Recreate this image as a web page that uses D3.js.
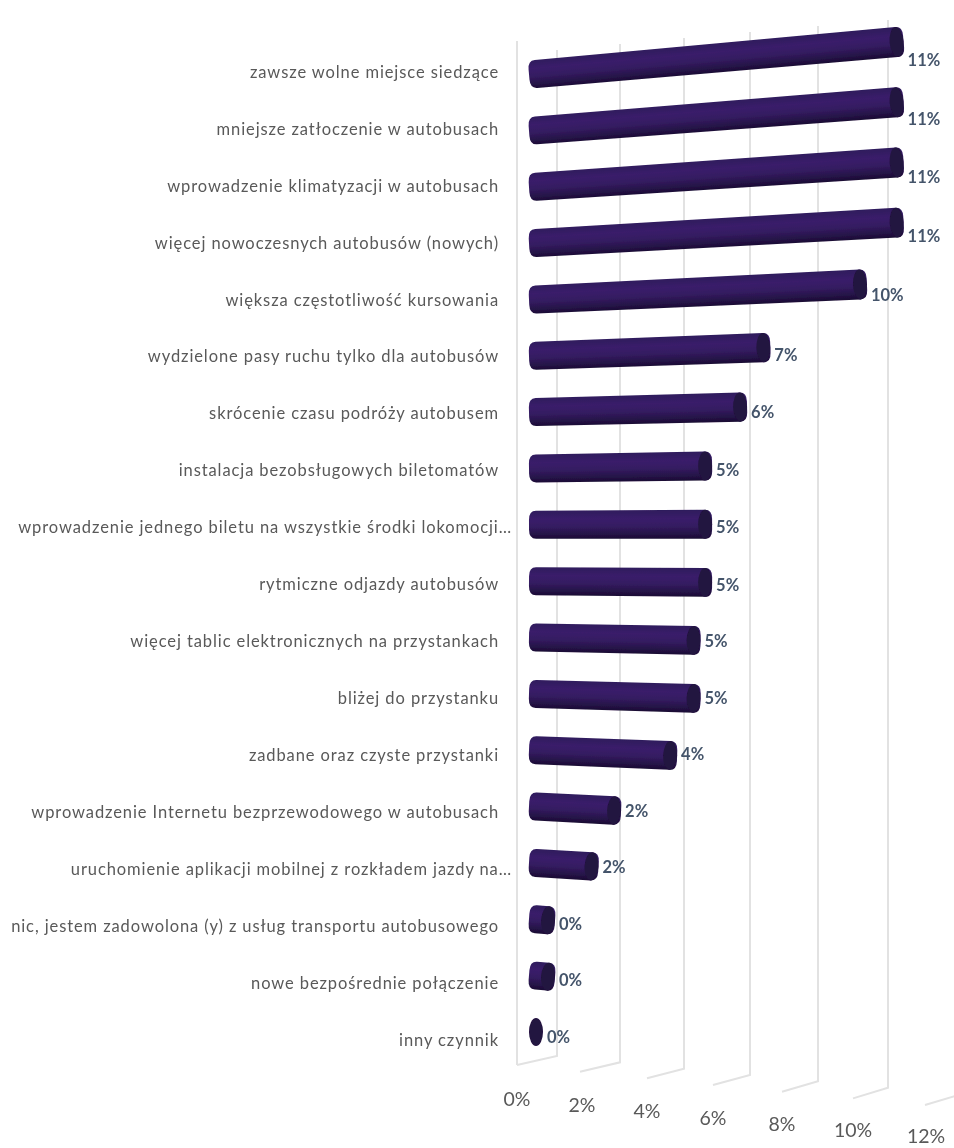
<!DOCTYPE html>
<html><head><meta charset="utf-8">
<style>html,body{margin:0;padding:0;background:#fff}svg{display:block}</style>
<script src="https://cdn.jsdelivr.net/npm/d3@7"></script></head>
<body><div id="c"></div>
<script>
const categories = ["zawsze wolne miejsce siedzące","mniejsze zatłoczenie w autobusach","wprowadzenie klimatyzacji w autobusach","więcej nowoczesnych autobusów (nowych)","większa częstotliwość kursowania","wydzielone pasy ruchu tylko dla autobusów","skrócenie czasu podróży autobusem","instalacja bezobsługowych biletomatów","wprowadzenie jednego biletu na wszystkie środki lokomocji…","rytmiczne odjazdy autobusów","więcej tablic elektronicznych na przystankach","bliżej do przystanku","zadbane oraz czyste przystanki","wprowadzenie Internetu bezprzewodowego w autobusach","uruchomienie aplikacji mobilnej z rozkładem jazdy na…","nic, jestem zadowolona (y) z usług transportu autobusowego","nowe bezpośrednie połączenie","inny czynnik"];
const values = [10.72,10.72,10.72,10.72,9.7,6.93,6.25,5.2,5.2,5.2,4.85,4.85,4.14,2.43,1.73,0.35,0.35,0];
const ticks = [0,2,4,6,8,10,12];
const tickLabels = ["0%","2%","4%","6%","8%","10%","12%"];

const W=954,H=1148;
const svg=d3.select("#c").append("svg").attr("width",W).attr("height",H);
const defs=svg.append("defs");
const grad=defs.append("linearGradient").attr("id","cyl").attr("x1",0).attr("x2",0).attr("y1",0).attr("y2",1);
[[0,"#2e1a5c"],[0.3,"#3a1e6a"],[0.55,"#351c62"],[0.8,"#27144a"],[1,"#1a0c33"]].forEach(s=>grad.append("stop").attr("offset",s[0]).attr("stop-color",s[1]));
const soft=defs.append("filter").attr("id","soft").attr("x","-5%").attr("y","-20%").attr("width","110%").attr("height","140%");
soft.append("feGaussianBlur").attr("stdDeviation",0.5);

// perspective scales
const xFront=d3.scaleLinear().domain(ticks).range([517,580,647,713,782,853,925]);
const xBack=d3.scaleLinear().domain(ticks).range([557,620,684,750,818,888,962]);
const xMid=d3.scaleLinear().domain(ticks).range([537,600,665.5,731.5,800,870.5,943]);
const yFront=d3.scaleLinear().domain([0,12]).range([1065,1105]);
const yBackBottom=d3.scaleLinear().domain([0,12]).range([1056,1094]);
const yBackTop=d3.scaleLinear().domain([0,12]).range([50,14]);
const xTickLabel=d3.scaleLinear().domain(ticks).range([517,582,647,713,782,853,926]);
const yTickLabel=d3.scaleLinear().domain([0,12]).range([1099,1136.5]);
const row=d3.scaleLinear().domain([0,categories.length-1]).range([74,1032]);
const rowLabel=d3.scaleLinear().domain([0,categories.length-1]).range([72,1040]);
const rowValue=d3.scaleLinear().domain([0,4,5,9,categories.length-1]).range([60,295,355,585,1037]);
const vanish={x:-4758,y:543};
const thick=d3.scaleLinear().domain([536,896]).range([28,30]);
const x0=xMid(0)-1, rx=7;

const line=d3.line();
const grid=svg.append("g").attr("fill","none").attr("stroke","#e2e2e2").attr("stroke-width",2).attr("filter","url(#soft)");
grid.append("path").attr("d",line([[xFront(0),41],[xFront(0),yFront(0)]]));
ticks.forEach(t=>{
  const pts=[[xFront(t),yFront(t)],[xBack(t),yBackBottom(t)]];
  if(t<12) pts.push([xBack(t),yBackTop(t)]);
  grid.append("path").attr("d",line(pts));
});

const bars=svg.append("g").attr("filter","url(#soft)");
categories.forEach((c,i)=>{
  const v=values[i], xe=v===0?x0:xMid(v), y0=row(i);
  const slope=(y0-vanish.y)/(x0-vanish.x);
  const ye=y0+slope*(xe-x0);
  const L=Math.hypot(xe-x0,ye-y0), ang=Math.atan2(ye-y0,xe-x0)*180/Math.PI;
  const h0=thick(x0)/2,h1=thick(xe)/2;
  const g=bars.append("g").attr("transform",`translate(${x0},${y0}) rotate(${ang})`);
  if(L>0){
    g.append("path").attr("fill","url(#cyl)")
     .attr("d",`M0,${-h0}L${L},${-h1}Q${L+rx},${-h1} ${L+rx},${-h1+9}L${L+rx},${h1-9}Q${L+rx},${h1} ${L},${h1}L0,${h0}Q${-rx},${h0} ${-rx},${h0-9}L${-rx},${-h0+9}Q${-rx},${-h0} 0,${-h0}Z`);
  }
  g.append("ellipse").attr("cx",L).attr("cy",0).attr("rx",rx).attr("ry",h1).attr("fill","#23123f");
  svg.append("text").attr("x",xe+rx+4).attr("y",rowValue(i)).attr("dy","0.35em")
     .attr("font-family","Lato").attr("font-weight",700).attr("font-size",16.5).attr("fill","#44546a")
     .text(Math.round(v)+"%");
  svg.append("text").attr("x",c.endsWith("…")?512:499).attr("y",rowLabel(i)).attr("dy","0.35em")
     .attr("text-anchor","end").attr("font-family","Lato").attr("font-size",16.5).attr("letter-spacing",0.9).attr("fill","#595959")
     .text(c);
});
ticks.forEach((t,i)=>{
  svg.append("text").attr("x",xTickLabel(t)).attr("y",yTickLabel(t)).attr("dy","0.35em").attr("text-anchor","middle")
    .attr("font-family","Lato").attr("font-size",19.5).attr("fill","#595959").text(tickLabels[i]);
});
</script></body></html>
